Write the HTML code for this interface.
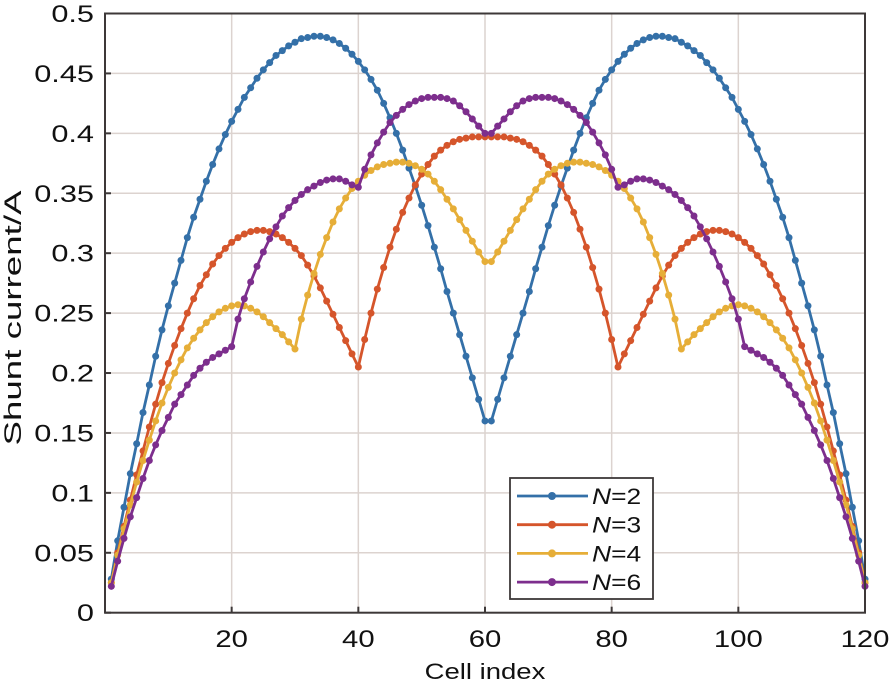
<!DOCTYPE html>
<html><head><meta charset="utf-8"><style>
html,body{margin:0;padding:0;background:#fff;}
svg{display:block;font-family:"Liberation Sans",sans-serif;}
</style></head><body>
<svg id="chart" width="890" height="685"></svg>
<script>
const xTicks=[20,40,60,80,100,120];
const yTicks=[0,0.05,0.1,0.15,0.2,0.25,0.3,0.35,0.4,0.45,0.5];
const yTickLabels=["0","0.05","0.1","0.15","0.2","0.25","0.3","0.35","0.4","0.45","0.5"];
const seriesNames=["2","3","4","6"];
const seriesColors=["#3470a8","#d5552b","#e6ae38","#7d2e8d"];
const n2=[.028,.06,.088,.116,.141,.167,.19,.214,.236,.256,.275,.294,.313,.33,.345,.36,.374,.387,.399,.41,.42,.43,.438,.446,.453,.459,.465,.469,.473,.476,.479,.48,.481,.481,.48,.478,.475,.471,.466,.46,.453,.445,.436,.425,.413,.4,.386,.371,.356,.34,.323,.305,.287,.268,.25,.232,.214,.196,.178,.16,
.16,.178,.196,.214,.232,.25,.268,.287,.305,.323,.34,.356,.371,.386,.4,.413,.425,.436,.445,.453,.46,.466,.471,.475,.478,.48,.481,.481,.48,.479,.476,.473,.469,.465,.459,.453,.446,.438,.43,.42,.41,.399,.387,.374,.36,.345,.33,.313,.294,.275,.256,.236,.214,.19,.167,.141,.116,.088,.06,.028];
const n3=[.025,.05,.072,.094,.115,.135,.155,.174,.192,.208,.223,.237,.25,.262,.273,.282,.291,.298,.304,.309,.313,.316,.318,.319,.319,.318,.316,.313,.309,.304,.298,.29,.281,.271,.26,.249,.238,.227,.216,.205,.228,.25,.27,.288,.305,.32,.334,.346,.357,.366,.374,.381,.386,.39,.393,.395,.396,.397,.397,.397,
.397,.397,.397,.396,.395,.393,.39,.386,.381,.374,.366,.357,.346,.334,.32,.305,.288,.27,.25,.228,.205,.216,.227,.238,.249,.26,.271,.281,.29,.298,.304,.309,.313,.316,.318,.319,.319,.318,.316,.313,.309,.304,.298,.291,.282,.273,.262,.25,.237,.223,.208,.192,.174,.155,.135,.115,.094,.072,.05,.025];
const n4=[.025,.048,.07,.09,.109,.127,.144,.16,.175,.188,.2,.211,.221,.229,.236,.242,.247,.251,.254,.256,.257,.256,.254,.251,.247,.242,.237,.232,.226,.22,.245,.265,.283,.299,.313,.326,.337,.346,.354,.36,.365,.369,.372,.374,.375,.376,.376,.375,.373,.37,.366,.36,.353,.345,.337,.328,.319,.31,.301,.293,
.293,.301,.31,.319,.328,.337,.345,.353,.36,.366,.37,.373,.375,.376,.376,.375,.374,.372,.369,.365,.36,.354,.346,.337,.326,.313,.299,.283,.265,.245,.22,.226,.232,.237,.242,.247,.251,.254,.256,.257,.256,.254,.251,.247,.242,.236,.229,.221,.211,.2,.188,.175,.16,.144,.127,.109,.09,.07,.048,.025];
const n6=[.022,.043,.062,.08,.096,.112,.127,.14,.152,.163,.174,.182,.19,.198,.204,.209,.213,.216,.219,.222,.245,.262,.276,.289,.301,.312,.322,.331,.338,.344,.349,.353,.356,.359,.361,.362,.362,.36,.357,.355,.37,.382,.392,.401,.409,.415,.42,.424,.427,.429,.43,.43,.43,.429,.427,.423,.418,.412,.406,.4,
.4,.406,.412,.418,.423,.427,.429,.43,.43,.43,.429,.427,.424,.42,.415,.409,.401,.392,.382,.37,.355,.357,.36,.362,.362,.361,.359,.356,.353,.349,.344,.338,.331,.322,.312,.301,.289,.276,.262,.245,.222,.219,.216,.213,.209,.204,.198,.19,.182,.174,.163,.152,.14,.127,.112,.096,.08,.062,.043,.022];
const seriesData=[n2,n3,n4,n6];

const NS="http://www.w3.org/2000/svg";
const svg=document.getElementById("chart");
const L=105,R=865,T=13.5,B=612.7;
const X=v=>L+(v/120)*(R-L);
const Y=v=>B-(v/0.5)*(B-T);
function mk(tag,attrs,parent){const e=document.createElementNS(NS,tag);for(const k in attrs)e.setAttribute(k,attrs[k]);(parent||svg).appendChild(e);return e;}

const grid=mk("g",{});


xTicks.forEach(t=>{const l=mk("line",{x1:X(t),x2:X(t),y1:T,y2:B,stroke:"#dcd3cf","stroke-width":1.5},grid);

});
yTicks.forEach(t=>{const l=mk("line",{x1:L,x2:R,y1:Y(t),y2:Y(t),stroke:"#dcd3cf","stroke-width":1.5},grid);

});

seriesData.forEach((d,si)=>{
  const g=mk("g",{});
  
  
  const pts=d.map((v,i)=>X(i+1).toFixed(2)+","+Y(v).toFixed(2)).join(" ");
  const pl=mk("polyline",{points:pts,fill:"none",stroke:seriesColors[si],"stroke-width":2.8,"stroke-linejoin":"round"},g);
  
  
  d.forEach((v,i)=>{const c=mk("circle",{cx:X(i+1),cy:Y(v),r:3.5,fill:seriesColors[si]},g);
    
    });
});

const ax=mk("g",{});


const box=mk("rect",{x:L,y:T,width:R-L,height:B-T,fill:"none",stroke:"#3d3838","stroke-width":2},ax);


xTicks.forEach(t=>{mk("line",{x1:X(t),x2:X(t),y1:B,y2:B-6,stroke:"#3d3838","stroke-width":2},ax);
  const tx=mk("text",{x:0,y:0,"text-anchor":"middle","font-size":24,fill:"#111",transform:"translate("+X(t)+",647) scale(1.22,1)"},ax);tx.textContent=t;
  
  });
yTicks.forEach((t,i)=>{mk("line",{x1:L,x2:L+6,y1:Y(t),y2:Y(t),stroke:"#3d3838","stroke-width":2},ax);
  const tx=mk("text",{x:0,y:0,"text-anchor":"end","font-size":24,fill:"#111",transform:"translate(94,"+(Y(t)+8.5)+") scale(1.28,1)"},ax);tx.textContent=yTickLabels[i];
  
  });
const xt=mk("text",{x:0,y:0,"text-anchor":"middle","font-size":22,fill:"#111",transform:"translate(485,679) scale(1.25,1)"});xt.textContent="Cell index";


const yt=mk("text",{x:0,y:0,"text-anchor":"middle","font-size":24,fill:"#111",textLength:255,lengthAdjust:"spacingAndGlyphs",transform:"translate(21,318) rotate(-90)"});yt.textContent="Shunt current/A";



const lg=mk("g",{});


mk("rect",{x:510,y:478,width:143,height:121,fill:"#fff",stroke:"#3d3838","stroke-width":1.8},lg);
seriesNames.forEach((nm,i)=>{
  const yy=496+i*28.7;
  const e=mk("g",{},lg);
  
  
  mk("line",{x1:517,x2:588,y1:yy,y2:yy,stroke:seriesColors[i],"stroke-width":2.8},e);
  mk("circle",{cx:552,cy:yy,r:4,fill:seriesColors[i]},e);
  const t=mk("text",{x:0,y:0,"font-size":22,fill:"#111",transform:"translate(592,"+(yy+8)+") scale(1.2,1)"},e);
  const it=mk("tspan",{"font-style":"italic"},t);it.textContent="N";
  const rest=mk("tspan",{},t);rest.textContent="="+nm;
});
</script>
</body></html>
